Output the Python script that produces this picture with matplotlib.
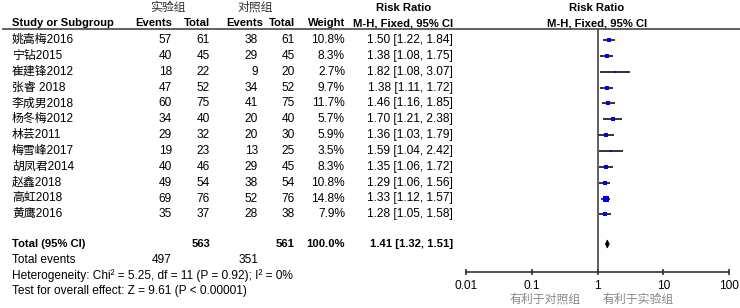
import matplotlib
matplotlib.use('Agg')
import matplotlib.pyplot as plt
from matplotlib.patches import Polygon
from matplotlib.ticker import FixedLocator, NullLocator
import numpy as np

plt.rcParams['font.family'] = ['Liberation Sans', 'Noto Sans CJK SC', 'DejaVu Sans']

# ---------------- data ----------------
studies = ['姚嵩梅2016', '宁钻2015', '崔建锋2012', '张睿 2018', '李成男2018', '杨冬梅2012',
           '林芸2011', '梅雪峰2017', '胡凤君2014', '赵鑫2018', '高虹2018', '黄鹰2016']
exp_events = [57, 40, 18, 47, 60, 34, 29, 19, 40, 49, 69, 35]
exp_total = [61, 45, 22, 52, 75, 40, 32, 23, 46, 54, 76, 37]
ctl_events = [38, 29, 9, 34, 41, 20, 20, 13, 29, 38, 52, 28]
ctl_total = [61, 45, 20, 52, 75, 40, 30, 25, 45, 54, 76, 38]
weights = [10.8, 8.3, 2.7, 9.7, 11.7, 5.7, 5.9, 3.5, 8.3, 10.8, 14.8, 7.9]
rr = [1.50, 1.38, 1.82, 1.38, 1.46, 1.70, 1.36, 1.59, 1.35, 1.29, 1.33, 1.28]
rr_lo = [1.22, 1.08, 1.08, 1.11, 1.16, 1.21, 1.03, 1.04, 1.06, 1.06, 1.12, 1.05]
rr_hi = [1.84, 1.75, 3.07, 1.72, 1.85, 2.38, 1.79, 2.42, 1.72, 1.56, 1.57, 1.58]

total_exp, total_ctl = 563, 561
total_weight = 100.0
events_exp, events_ctl = 497, 351
pooled_rr, pooled_lo, pooled_hi = 1.41, 1.32, 1.51
heterogeneity = 'Heterogeneity: Chi² = 5.25, df = 11 (P = 0.92); I² = 0%'
overall = 'Test for overall effect: Z = 9.61 (P < 0.00001)'
tick_vals = [0.01, 0.1, 1, 10, 100]
tick_labels = ['0.01', '0.1', '1', '10', '100']
group_exp, group_ctl = '实验组', '对照组'
favours_ctl, favours_exp = '有利于对照组', '有利于实验组'

# ---------------- layout ----------------
W, H = 740, 308
fig = plt.figure(figsize=(W / 100, H / 100), dpi=100)
bg = fig.add_axes([0, 0, 1, 1])
bg.set_xlim(0, W)
bg.set_ylim(H, 0)
bg.axis('off')

FS = 8.55
FSB = 8.1
row_y0, row_dy = 40, 15.85
n = len(studies)
ys = [row_y0 + i * row_dy for i in range(n)]
y_total, y_events, y_het, y_test = 244, 260, 276, 291

X_NAME, X_EE, X_ET, X_CE, X_CT, X_W, X_RR = 12, 172, 210, 258, 295, 345, 453


def t(x, y, s, ha='right', bold=False, color='black', size=None):
    if size is None:
        size = FSB if bold else FS
    bg.text(x, y, s, ha=ha, va='center', fontsize=size,
            fontweight='bold' if bold else 'normal', color=color)


# headers
t(168, 8, group_exp, ha='center', color='#333333')
t(255, 8, group_ctl, ha='center', color='#333333')
t(404, 8, 'Risk Ratio', ha='center', bold=True)
t(597, 8, 'Risk Ratio', ha='center', bold=True)
t(X_NAME, 23, 'Study or Subgroup', ha='left', bold=True)
t(X_EE, 23, 'Events', bold=True)
t(X_ET, 23, 'Total', bold=True)
t(263, 23, 'Events', bold=True)
t(X_CT, 23, 'Total', bold=True)
t(X_W, 23, 'Weight', bold=True)
t(X_RR, 23, 'M-H, Fixed, 95% CI', bold=True)
t(597, 23, 'M-H, Fixed, 95% CI', ha='center', bold=True)
bg.plot([2, 740], [29, 29], color='#555555', lw=1.3, solid_capstyle='butt')

# study rows
for i in range(n):
    y = ys[i]
    t(X_NAME, y, studies[i], ha='left')
    t(X_EE, y, str(exp_events[i]))
    t(X_ET, y, str(exp_total[i]))
    t(X_CE, y, str(ctl_events[i]))
    t(X_CT, y, str(ctl_total[i]))
    t(X_W, y, f'{weights[i]:.1f}%')
    t(X_RR, y, f'{rr[i]:.2f} [{rr_lo[i]:.2f}, {rr_hi[i]:.2f}]')

# totals
t(X_NAME, y_total, 'Total (95% CI)', ha='left', bold=True)
t(X_ET, y_total, str(total_exp), bold=True)
t(X_CT, y_total, str(total_ctl), bold=True)
t(X_W, y_total, f'{total_weight:.1f}%', bold=True)
t(X_RR, y_total, f'{pooled_rr:.2f} [{pooled_lo:.2f}, {pooled_hi:.2f}]', bold=True)
t(X_NAME, y_events, 'Total events', ha='left')
t(X_EE, y_events, str(events_exp))
t(X_CE, y_events, str(events_ctl))
t(X_NAME, y_het, heterogeneity, ha='left')
t(X_NAME, y_test, overall, ha='left')

# ---------------- forest axes ----------------
FX0, FX1, FY0, FY1 = 466, 729, 29, 272
ax = fig.add_axes([FX0 / W, 1 - FY1 / H, (FX1 - FX0) / W, (FY1 - FY0) / H])
ax.set_xscale('log')
ax.set_xlim(tick_vals[0], tick_vals[-1])
ax.set_ylim(FY1, FY0)
ax.patch.set_alpha(0)
for s in ['top', 'right', 'left']:
    ax.spines[s].set_visible(False)
ax.spines['bottom'].set_color('#222222')
ax.spines['bottom'].set_linewidth(1.1)
ax.yaxis.set_visible(False)
ax.xaxis.set_major_locator(FixedLocator(tick_vals))
ax.xaxis.set_minor_locator(NullLocator())
ax.set_xticklabels(tick_labels)
ax.tick_params(axis='x', direction='inout', length=5, width=1.1, color='#222222',
               labelsize=FS, pad=3)
ax.axvline(1, color='#444444', lw=1.2)

for i in range(n):
    ax.plot([rr_lo[i], rr_hi[i]], [ys[i], ys[i]], color='#333333', lw=1.4,
            solid_capstyle='butt', zorder=2)
    side_pt = 1.05 * np.sqrt(weights[i])
    ax.plot(rr[i], ys[i], marker='s', markersize=side_pt, color='#0000ee',
            markeredgewidth=0, zorder=3)

dh = 4
ax.add_patch(Polygon([(pooled_lo, y_total), (pooled_rr, y_total - dh),
                      (pooled_hi, y_total), (pooled_rr, y_total + dh)],
                     closed=True, facecolor='black', edgecolor='black', lw=0.5,
                     zorder=3))

t(545, 300, favours_ctl, ha='center', color='#888888')
t(638, 300, favours_exp, ha='center', color='#888888')

fig.savefig('out.png', dpi=100)
